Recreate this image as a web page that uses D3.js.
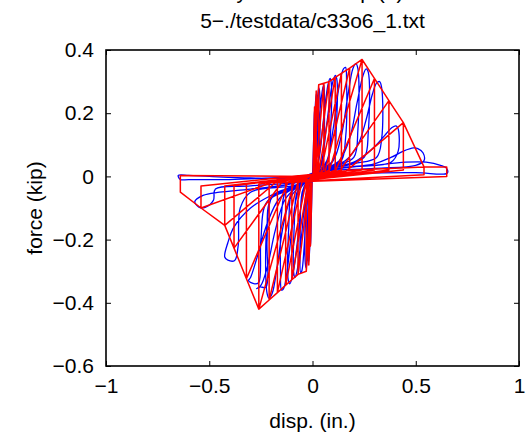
<!DOCTYPE html>
<html>
<head>
<meta charset="utf-8">
<script src="https://cdn.jsdelivr.net/npm/d3@7"></script>
<style>
  body { margin: 0; background: #fff; }
  svg { display: block; font-family: "Liberation Sans", Arial, Helvetica, sans-serif; }
</style>
</head>
<body>
<svg id="chart" width="530" height="442"></svg>
<script>
const titleLines = ["Hysteresis Loop (1)", "5\u2212./testdata/c33o6_1.txt"];
const xLabel = "disp. (in.)";
const yLabel = "force (kip)";
const xTicks = [-1, -0.5, 0, 0.5, 1];
const yTicks = [-0.6, -0.4, -0.2, 0, 0.2, 0.4];

// measured response (disp, force), one array per half cycle
const measured = [
  [[0,0],[0.004,0.08],[0.008,0.18],[0.01,0.21],[0.012,0.2],[0.01,0.05],[0.005,0.01]],
  [[0,-0.005],[-0.004,-0.08],[-0.008,-0.19],[-0.01,-0.22],[-0.012,-0.21],[-0.01,-0.05],[-0.005,-0.01]],
  [[0,0],[0.006,0.08],[0.012,0.2],[0.018,0.26],[0.021,0.25],[0.02,0.06],[0.01,0.01]],
  [[0,-0.005],[-0.006,-0.08],[-0.012,-0.2],[-0.018,-0.27],[-0.021,-0.26],[-0.02,-0.06],[-0.01,-0.01]],
  [[0,0.005],[0.01,0.07],[0.02,0.2],[0.03,0.28],[0.034,0.27],[0.032,0.07],[0.02,0.02],[0.005,0.01]],
  [[-0.005,-0.005],[-0.01,-0.07],[-0.02,-0.2],[-0.03,-0.29],[-0.034,-0.28],[-0.032,-0.07],[-0.02,-0.02],[-0.005,-0.01]],
  [[0,0.01],[0.02,0.06],[0.035,0.2],[0.05,0.28],[0.055,0.29],[0.058,0.2],[0.05,0.05],[0.03,0.02],[0,0.005]],
  [[-0.01,-0.01],[-0.025,-0.06],[-0.04,-0.22],[-0.052,-0.3],[-0.057,-0.305],[-0.06,-0.2],[-0.05,-0.05],[-0.03,-0.02],[0,-0.005]],
  [[0.01,0.01],[0.03,0.05],[0.055,0.19],[0.075,0.29],[0.085,0.31],[0.09,0.3],[0.088,0.15],[0.075,0.05],[0.04,0.02],[0,0.005]],
  [[-0.01,-0.01],[-0.03,-0.05],[-0.055,-0.2],[-0.075,-0.3],[-0.085,-0.32],[-0.09,-0.31],[-0.088,-0.15],[-0.075,-0.05],[-0.04,-0.02],[0,-0.005]],
  [[0.02,0.01],[0.045,0.05],[0.07,0.17],[0.095,0.29],[0.11,0.32],[0.117,0.31],[0.115,0.15],[0.1,0.05],[0.06,0.025],[0,0.01]],
  [[-0.02,-0.015],[-0.045,-0.05],[-0.07,-0.19],[-0.095,-0.31],[-0.11,-0.34],[-0.117,-0.33],[-0.115,-0.16],[-0.1,-0.05],[-0.06,-0.025],[0,-0.01]],
  [[0.03,0.015],[0.07,0.05],[0.1,0.15],[0.13,0.29],[0.15,0.34],[0.16,0.345],[0.165,0.3],[0.16,0.12],[0.14,0.05],[0.08,0.03],[0,0.01]],
  [[-0.03,-0.015],[-0.07,-0.05],[-0.1,-0.17],[-0.125,-0.31],[-0.14,-0.355],[-0.15,-0.36],[-0.155,-0.3],[-0.15,-0.12],[-0.13,-0.05],[-0.07,-0.03],[0,-0.01]],
  [[0.04,0.02],[0.1,0.05],[0.14,0.13],[0.17,0.25],[0.195,0.34],[0.21,0.357],[0.22,0.34],[0.22,0.15],[0.2,0.06],[0.12,0.035],[0,0.01]],
  [[-0.04,-0.02],[-0.1,-0.06],[-0.14,-0.15],[-0.17,-0.28],[-0.195,-0.37],[-0.21,-0.385],[-0.22,-0.37],[-0.22,-0.15],[-0.19,-0.06],[-0.1,-0.035],[0,-0.01]],
  [[0.05,0.02],[0.13,0.05],[0.18,0.12],[0.215,0.23],[0.245,0.32],[0.26,0.34],[0.27,0.33],[0.27,0.14],[0.25,0.06],[0.15,0.035],[0,0.01]],
  [[-0.05,-0.02],[-0.13,-0.07],[-0.18,-0.17],[-0.22,-0.29],[-0.25,-0.345],[-0.27,-0.355],[-0.255,-0.35],[-0.225,-0.35],[-0.22,-0.2],[-0.2,-0.07],[-0.1,-0.035],[0,-0.01]],
  [[0.05,0.02],[0.16,0.05],[0.22,0.1],[0.26,0.18],[0.29,0.26],[0.31,0.295],[0.325,0.3],[0.335,0.28],[0.335,0.12],[0.31,0.06],[0.2,0.04],[0,0.01]],
  [[-0.05,-0.02],[-0.16,-0.07],[-0.22,-0.15],[-0.27,-0.26],[-0.3,-0.32],[-0.31,-0.33],[-0.28,-0.34],[-0.26,-0.335],[-0.25,-0.2],[-0.22,-0.08],[-0.1,-0.04],[0,-0.01]],
  [[0.06,0.02],[0.2,0.045],[0.26,0.07],[0.31,0.1],[0.35,0.13],[0.385,0.155],[0.405,0.16],[0.415,0.15],[0.415,0.08],[0.38,0.045],[0.2,0.03],[0,0.01]],
  [[-0.06,-0.02],[-0.2,-0.06],[-0.3,-0.1],[-0.38,-0.16],[-0.41,-0.21],[-0.425,-0.255],[-0.41,-0.265],[-0.377,-0.266],[-0.36,-0.22],[-0.35,-0.1],[-0.3,-0.05],[-0.1,-0.03],[0,-0.01]],
  [[0.08,0.02],[0.3,0.04],[0.38,0.06],[0.44,0.08],[0.49,0.09],[0.51,0.088],[0.535,0.075],[0.54,0.05],[0.5,0.035],[0.3,0.025],[0,0.01]],
  [[-0.08,-0.02],[-0.3,-0.04],[-0.45,-0.05],[-0.53,-0.06],[-0.57,-0.08],[-0.55,-0.097],[-0.52,-0.098],[-0.48,-0.076],[-0.47,-0.04],[-0.3,-0.03],[0,-0.01]],
  [[0.08,0.02],[0.3,0.035],[0.45,0.045],[0.55,0.045],[0.62,0.035],[0.65,0.025],[0.652,0.01],[0.5,0.012],[0.2,0.01],[0,0.005]],
  [[-0.1,-0.005],[-0.3,-0.005],[-0.5,0],[-0.6,0.003],[-0.65,0.003],[-0.64,-0.01],[-0.6,-0.01],[-0.4,-0.01],[-0.2,-0.005],[0,0]]
];

// model response (disp, force), piecewise linear
const model = [
  [0,0],
  [0.002,0],[0.01,0.22],[0.01,0.02],[-0.002,-0.005],[-0.01,-0.22],[-0.01,-0.02],
  [0.003,0.005],[0.018,0.27],[0.018,0.02],[-0.003,-0.008],[-0.018,-0.28],[-0.018,-0.02],
  [0.005,0.005],[0.03,0.29],[0.03,0.02],[-0.005,-0.01],[-0.03,-0.30],[-0.03,-0.02],
  [0.008,0.008],[0.03,0.29],[0.055,0.295],[0.055,0.02],[-0.008,-0.01],[-0.03,-0.30],[-0.07,-0.31],[-0.07,-0.02],
  [0.015,0.01],[0.055,0.295],[0.08,0.30],[0.08,0.02],[-0.015,-0.01],[-0.07,-0.31],[-0.10,-0.327],[-0.10,-0.02],
  [0.02,0.01],[0.08,0.30],[0.11,0.313],[0.11,0.02],[-0.02,-0.012],[-0.10,-0.327],[-0.13,-0.344],[-0.13,-0.02],
  [0.03,0.012],[0.11,0.313],[0.14,0.326],[0.14,0.02],[-0.03,-0.012],[-0.13,-0.344],[-0.17,-0.368],[-0.17,-0.02],
  [0.04,0.012],[0.14,0.326],[0.18,0.343],[0.18,0.02],[-0.05,-0.015],[-0.17,-0.368],[-0.21,-0.391],[-0.21,-0.02],
  [0.06,0.012],[0.18,0.343],[0.24,0.37],[0.24,0.02],[-0.07,-0.015],[-0.21,-0.391],[-0.26,-0.42],[-0.26,-0.025],
  [0.08,0.015],[0.24,0.37],[0.30,0.31],[0.30,0.02],[-0.09,-0.018],[-0.26,-0.42],[-0.32,-0.324],[-0.32,-0.025],
  [0.11,0.015],[0.30,0.31],[0.37,0.24],[0.37,0.02],[-0.12,-0.02],[-0.32,-0.324],[-0.38,-0.227],[-0.38,-0.03],
  [0.13,0.015],[0.37,0.24],[0.44,0.17],[0.44,0.02],[-0.15,-0.02],[-0.38,-0.227],[-0.425,-0.155],[-0.425,-0.03],
  [0.16,0.015],[0.44,0.17],[0.54,0.03],[0.54,0.005],[-0.18,-0.02],[-0.425,-0.155],[-0.54,-0.10],[-0.54,-0.03],
  [0.2,0.02],[0.54,0.03],[0.65,0.03],[0.65,0],[-0.2,-0.02],[-0.54,-0.10],[-0.64,-0.05],[-0.64,0.003],[0,0]
];

const W = 530, H = 442;
const margin = { top: 50, right: 11, bottom: 76, left: 106 };
const w = W - margin.left - margin.right;
const h = H - margin.top - margin.bottom;

const svg = d3.select("#chart");
const g = svg.append("g").attr("transform", `translate(${margin.left},${margin.top})`);

const x = d3.scaleLinear().domain([-1, 1]).range([0, w]);
const y = d3.scaleLinear().domain([-0.6, 0.4]).range([h, 0]);
const fmt = v => (v < 0 ? "\u2212" : "") + d3.format("")(Math.abs(+v.toFixed(2)));

// data lines, clipped to the axes
svg.append("clipPath").attr("id", "clip").append("rect").attr("width", w).attr("height", h);
const plot = g.append("g").attr("clip-path", "url(#clip)");

const smooth = d3.line().x(d => x(d[0])).y(d => y(d[1])).curve(d3.curveCatmullRom.alpha(0.5));
plot.append("path")
  .attr("d", smooth(measured.flat()))
  .attr("fill", "none").attr("stroke", "#0000ff").attr("stroke-width", 1.3)
  .attr("stroke-linejoin", "round");

const straight = d3.line().x(d => x(d[0])).y(d => y(d[1]));
plot.append("path")
  .attr("d", straight(model))
  .attr("fill", "none").attr("stroke", "#ff0000").attr("stroke-width", 1.5)
  .attr("stroke-linejoin", "round");

// axes: ticks inward on all four sides, MATLAB style
const TL = 5;
const fs = "21px";
g.append("g").attr("transform", `translate(0,${h})`)
  .call(d3.axisBottom(x).tickValues(xTicks).tickSizeInner(-TL).tickSizeOuter(0).tickPadding(12).tickFormat(fmt))
  .call(a => a.select(".domain").remove())
  .call(a => a.selectAll("text").style("font-size", fs).attr("fill", "#000"));
g.append("g")
  .call(d3.axisTop(x).tickValues(xTicks).tickSizeInner(-TL).tickSizeOuter(0).tickFormat(""))
  .call(a => a.select(".domain").remove());
g.append("g")
  .call(d3.axisLeft(y).tickValues(yTicks).tickSizeInner(-TL).tickSizeOuter(0).tickPadding(12).tickFormat(fmt))
  .call(a => a.select(".domain").remove())
  .call(a => a.selectAll("text").style("font-size", fs).attr("fill", "#000"));
g.append("g").attr("transform", `translate(${w},0)`)
  .call(d3.axisRight(y).tickValues(yTicks).tickSizeInner(-TL).tickSizeOuter(0).tickFormat(""))
  .call(a => a.select(".domain").remove());
g.selectAll(".tick line").attr("stroke", "#000").attr("stroke-width", 1);

g.append("rect").attr("width", w).attr("height", h)
  .attr("fill", "none").attr("stroke", "#000").attr("stroke-width", 1.6);

// labels
g.append("text").attr("x", w / 2).attr("y", h + 62)
  .attr("text-anchor", "middle").style("font-size", fs).text(xLabel);
g.append("text").attr("transform", `translate(-64,${h / 2}) rotate(-90)`)
  .attr("text-anchor", "middle").style("font-size", fs).text(yLabel);

// first title line sits mostly above the page edge, as in the source figure
svg.selectAll(".title").data(titleLines).join("text").attr("class", "title")
  .attr("x", margin.left + w / 2).attr("y", (d, i) => i === 0 ? -1 : 28)
  .attr("text-anchor", "middle").style("font-size", "21px").text(d => d);
</script>
</body>
</html>
